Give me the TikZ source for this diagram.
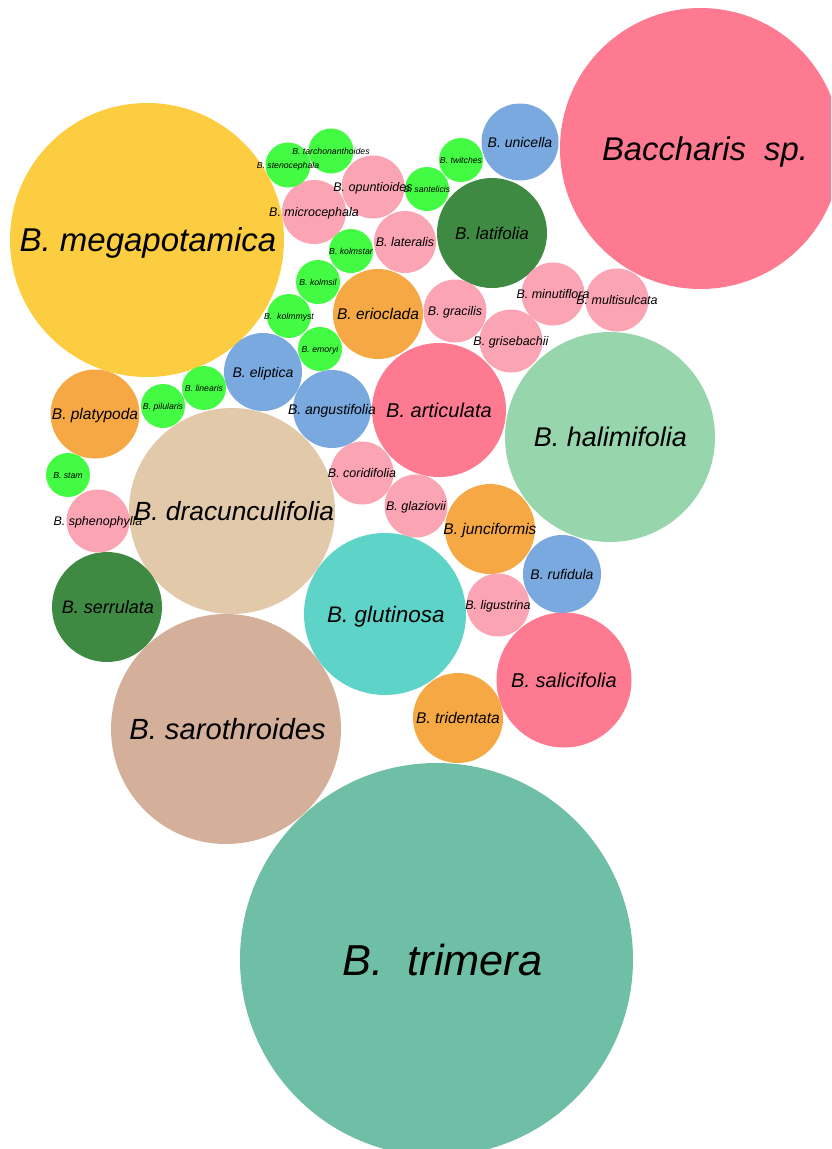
\documentclass[tikz,border=0pt]{standalone}
\usepackage{fontspec}
\setmainfont{Liberation Sans}
\definecolor{cRed}{HTML}{FD7A91}
\definecolor{cYel}{HTML}{FCCD40}
\definecolor{cTri}{HTML}{6FBEA6}
\definecolor{cHal}{HTML}{97D5AC}
\definecolor{cDra}{HTML}{E2C9AA}
\definecolor{cSar}{HTML}{D4B09A}
\definecolor{cGlu}{HTML}{5ED3C8}
\definecolor{cOra}{HTML}{F5A843}
\definecolor{cDkg}{HTML}{3F8A42}
\definecolor{cBlu}{HTML}{79A9DF}
\definecolor{cLpk}{HTML}{FBA4B4}
\definecolor{cGrn}{HTML}{44FB44}
\def\bubbledata{%
sp/700.5/148.5/140.5/cRed/32.8/4.5/{Baccharis\ \ sp.},
mega/147/240/137/cYel/33/1/{B. megapotamica},
trim/436.5/959.5/196.5/cTri/43.3/6/{B.\ \ trimera},
hali/610/437/105/cHal/27/0.5/{B. halimifolia},
drac/232/511/103/cDra/26.3/2/{B. dracunculifolia},
saro/226/729/115/cSar/29.2/1.5/{B. sarothroides},
glut/385/614/81/cGlu/22.5/1/{B. glutinosa},
arti/439/410/67/cRed/20/0/{B. articulata},
sali/564/680/67.5/cRed/20/0/{B. salicifolia},
serr/107/607/55/cDkg/18/1/{B. serrulata},
lati/492/233/55/cDkg/17/0/{B. latifolia},
erio/378/314/45/cOra/15.5/0/{B. erioclada},
plat/95/414/44.5/cOra/15.5/0/{B. platypoda},
junc/490/529/45/cOra/15.5/0/{B. junciformis},
trid/458/718/45/cOra/15.5/0/{B. tridentata},
elip/263/372/39/cBlu/14/0/{B. eliptica},
angu/332/409/39/cBlu/14/0/{B. angustifolia},
unic/520/142/38.5/cBlu/14/0/{B. unicella},
rufi/562/574/39/cBlu/14/0/{B. rufidula},
opun/373/187/31.5/cLpk/12.5/0/{B. opuntioides},
micr/314/212/32/cLpk/12.5/0/{B. microcephala},
late/405/242/31/cLpk/12.5/0/{B. lateralis},
grac/455/311/31.5/cLpk/12.5/0/{B. gracilis},
gris/511/341/31.5/cLpk/12.5/0/{B. grisebachii},
minu/553/294/31.5/cLpk/12.5/0/{B. minutiflora},
mult/617/300/31.5/cLpk/12.5/0/{B. multisulcata},
cori/362/473/31.5/cLpk/12.5/0/{B. coridifolia},
glaz/416/506/31.5/cLpk/12.5/0/{B. glaziovii},
ligu/498/605/31.5/cLpk/12.5/0/{B. ligustrina},
sphe/98/521/31.5/cLpk/12.5/0/{B. sphenophylla},
tarc/331/151/22.5/cGrn/8.7/0/{B. tarchonanthoides},
sten/288/165/22.5/cGrn/8.7/0/{B. stenocephala},
twit/461/160/22/cGrn/8.7/0/{B. twitches},
sant/427/189/22/cGrn/8.7/0/{B. santelicis},
kstar/351/251/22/cGrn/8.7/0/{B. kolmstar},
ksil/318/282/22/cGrn/8.7/0/{B. kolmsil},
kmys/289/316/22/cGrn/8.7/0/{B.\ \ kolmmyst},
emor/320/349/22/cGrn/8.7/0/{B. emoryi},
pilu/163/406/22/cGrn/8.7/0/{B. pilularis},
linr/204/388/22/cGrn/8.7/0/{B. linearis},
stam/68/475/22/cGrn/8.7/0/{B. stam}}
\begin{document}
\begin{tikzpicture}[x=1pt,y=-1pt,
  lbl/.style={inner sep=0pt, anchor=base, text=black}]
\useasboundingbox (0,0) rectangle (831,1149);
\clip (0,0) rectangle (831,1149);
\foreach \nm/\cx/\cy/\rr/\cl/\fs/\dx/\tx in \bubbledata {
  \fill[\cl] (\cx,\cy) circle[radius=\rr];
}
\foreach \nm/\cx/\cy/\rr/\cl/\fs/\dx/\tx in \bubbledata {
  \node[lbl, font=\fontsize{\fs}{\fs}\selectfont\itshape] (\nm) at ({\cx+\dx},{\cy+0.358*\fs}) {\tx};
}
\end{tikzpicture}
\end{document}
